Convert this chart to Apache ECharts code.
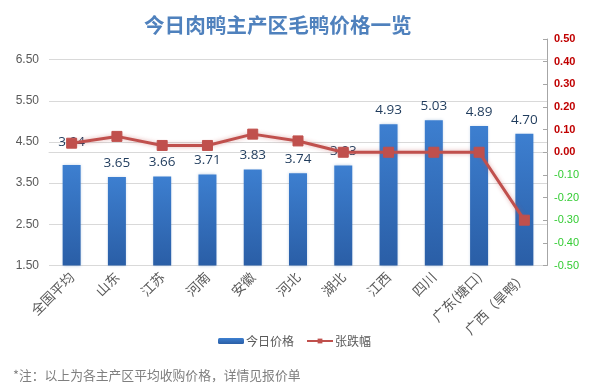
<!DOCTYPE html>
<html>
<head>
<meta charset="utf-8">
<script src="https://cdn.jsdelivr.net/npm/echarts@6/dist/echarts.min.js"></script>
<style>
html,body{margin:0;padding:0;background:#fff;}
#main{width:591px;height:390px;}
</style>
</head>
<body>
<div id="main"></div>
<script>
var categories = ['全国平均', '山东', '江苏', '河南', '安徽', '河北', '湖北', '江西', '四川', '广东(塘口)', '广西（旱鸭）'];
var priceValues = [3.94, 3.65, 3.66, 3.71, 3.83, 3.74, 3.93, 4.93, 5.03, 4.89, 4.70];
var changeValues = [0.04, 0.07, 0.03, 0.03, 0.08, 0.05, 0.00, 0.00, 0.00, 0.00, -0.30];
var leftTicks = { min: 1.5, max: 7.0, interval: 1 };
var rightTicks = { min: -0.5, max: 0.5, interval: 0.1 };
var titleText = '今日肉鸭主产区毛鸭价格一览';
var noteText = '*注：以上为各主产区平均收购价格，详情见报价单';
var seriesNames = ['今日价格', '张跌幅'];

var chart = echarts.init(document.getElementById('main'), null, { renderer: 'canvas' });
var FONT = '"Microsoft YaHei","Noto Sans CJK SC",sans-serif';
var barData = priceValues.map(function (v, i) {
  return i === 0 ? { value: v, label: { offset: [0, -9] } } : v;
});
chart.setOption({
  backgroundColor: '#ffffff',
  animation: false,
  title: [{
    text: titleText,
    left: 139,
    top: 10,
    textStyle: { color: '#4f81bd', fontSize: 20.6, fontWeight: 'bold', fontFamily: FONT }
  }, {
    text: noteText,
    left: 8,
    top: 364,
    textStyle: { color: '#7f7f7f', fontSize: 12.8, fontWeight: 'normal', fontFamily: FONT }
  }],
  legend: {
    data: [seriesNames[0], seriesNames[1]],
    left: 213,
    top: 330,
    itemGap: 12,
    itemWidth: 26,
    itemHeight: 6,
    textStyle: { color: '#595959', fontSize: 12, fontFamily: FONT, padding: [0, 0, 0, -3] }
  },
  grid: { left: 49, right: 44, top: 39, bottom: 124.5, containLabel: false },
  xAxis: {
    type: 'category',
    data: categories,
    axisLine: { show: true, lineStyle: { color: '#d9d9d9', width: 1 } },
    axisTick: { show: false },
    axisLabel: { rotate: 45, color: '#595959', fontSize: 13.5, margin: 9, interval: 0, fontFamily: FONT }
  },
  yAxis: [{
    type: 'value',
    min: leftTicks.min,
    max: leftTicks.max,
    interval: leftTicks.interval,
    axisLine: { show: false },
    axisTick: { show: false },
    axisLabel: {
      color: '#595959', fontSize: 12, margin: 10, showMaxLabel: false,
      formatter: function (v) { return v.toFixed(2); }
    },
    splitLine: { show: true, showMaxLine: false, lineStyle: { color: '#d9d9d9', width: 1 } }
  }, {
    type: 'value',
    position: 'right',
    min: rightTicks.min,
    max: rightTicks.max,
    interval: rightTicks.interval,
    axisLine: { show: true, lineStyle: { color: '#a6a6a6', width: 1 } },
    axisTick: { show: true, inside: true, length: 4, lineStyle: { color: '#a6a6a6' } },
    axisLabel: {
      fontSize: 11, margin: 7,
      formatter: function (v) {
        var s = (Math.round(v * 100) / 100).toFixed(2);
        if (s === '-0.00') s = '0.00';
        return v < -0.001 ? '{g|' + s + '}' : '{r|' + s + '}';
      },
      rich: {
        r: { color: '#c00000', fontSize: 11, fontWeight: 'bold' },
        g: { color: '#33cc33', fontSize: 11 }
      }
    },
    splitLine: { show: false }
  }],
  series: [{
    name: seriesNames[0],
    type: 'bar',
    yAxisIndex: 0,
    data: barData,
    barWidth: 18,
    itemStyle: {
      color: new echarts.graphic.LinearGradient(0, 0, 0, 1, [
        { offset: 0, color: '#3d7fd0' },
        { offset: 1, color: '#2a5ea6' }
      ]),
      shadowColor: 'rgba(79,129,189,0.35)',
      shadowBlur: 3
    },
    label: {
      show: true,
      position: 'top',
      distance: 7,
      color: '#1f3b5c',
      fontSize: 13.5,
      fontFamily: '"Open Sans",sans-serif',
      formatter: function (p) { return p.value.toFixed(2); }
    },
    z: 2
  }, {
    name: seriesNames[1],
    type: 'line',
    yAxisIndex: 1,
    data: changeValues,
    symbol: 'rect',
    symbolSize: 10,
    lineStyle: { color: '#c0504d', width: 3, shadowColor: 'rgba(192,80,77,0.45)', shadowBlur: 4 },
    itemStyle: { color: '#c0504d', borderColor: '#c0504d' },
    z: 3
  }]
});
</script>
</body>
</html>
